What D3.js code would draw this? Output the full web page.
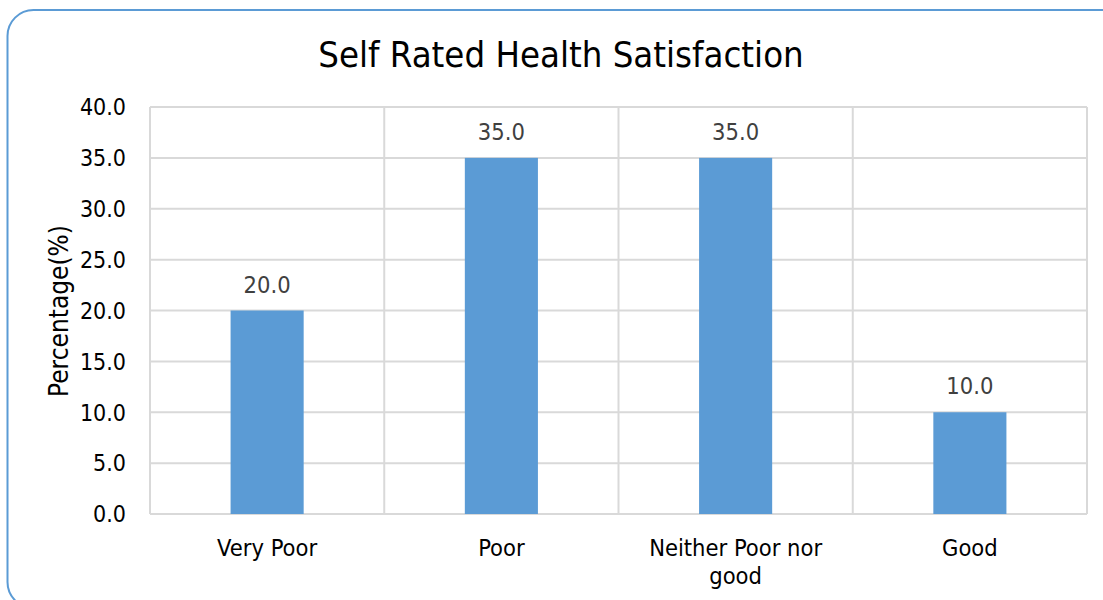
<!DOCTYPE html>
<html><head><meta charset="utf-8">
<script src="https://cdn.jsdelivr.net/npm/d3@7"></script>
<style>body{margin:0;background:#fff}svg{display:block}</style>
</head><body>
<svg id="c" width="1103" height="600"></svg>
<script>
const categories = ["Very Poor", "Poor", "Neither Poor nor good", "Good"];
const values = [20.0, 35.0, 35.0, 10.0];
const yTicks = [0, 5, 10, 15, 20, 25, 30, 35, 40];
const title = "Self Rated Health Satisfaction";
const yTitle = "Percentage(%)";

const font = "'DejaVu Sans Condensed', 'DejaVu Sans', sans-serif";
const svg = d3.select("#c");
svg.append("rect").attr("x", 7.5).attr("y", 10).attr("width", 1120).attr("height", 598)
  .attr("rx", 26).attr("fill", "#fff").attr("stroke", "#5b9bd5").attr("stroke-width", 2);

const L = 150, R = 1087, T = 107, B = 514;
const x = d3.scaleBand().domain(categories).range([L, R]).paddingInner(0).paddingOuter(0);
const y = d3.scaleLinear().domain([0, 40]).range([B, T]);

const g = svg.append("g");
g.selectAll("line.h").data(yTicks).join("line")
  .attr("x1", L).attr("x2", R).attr("y1", d => y(d)).attr("y2", d => y(d))
  .attr("stroke", "#d9d9d9").attr("stroke-width", 2);
const bounds = categories.map(c => x(c)).concat([x(categories[categories.length-1]) + x.bandwidth()]);
g.selectAll("line.v").data(bounds).join("line")
  .attr("x1", d => d).attr("x2", d => d).attr("y1", T).attr("y2", B)
  .attr("stroke", "#d9d9d9").attr("stroke-width", 2);

const bw = x.bandwidth() * 0.312;
g.selectAll("rect.bar").data(values).join("rect")
  .attr("x", (d, i) => x(categories[i]) + x.bandwidth() / 2 - bw / 2)
  .attr("width", bw)
  .attr("y", d => y(d)).attr("height", d => B - y(d))
  .attr("fill", "#5b9bd5");

g.selectAll("text.lbl").data(values).join("text")
  .attr("x", (d, i) => x(categories[i]) + x.bandwidth() / 2)
  .attr("y", d => y(d) - 18)
  .attr("text-anchor", "middle").attr("font-family", font).attr("font-size", 23.5)
  .attr("fill", "#404040").text(d => d.toFixed(1));

g.selectAll("text.yt").data(yTicks).join("text")
  .attr("x", 126).attr("y", d => y(d)).attr("dy", "0.36em")
  .attr("text-anchor", "end").attr("font-family", font).attr("font-size", 23)
  .attr("fill", "#000").text(d => d.toFixed(1));

categories.forEach((c, i) => {
  const cx = x(c) + x.bandwidth() / 2;
  const lines = c === "Neither Poor nor good" ? ["Neither Poor nor", "good"] : [c];
  lines.forEach((ln, j) => {
    g.append("text").attr("x", cx).attr("y", 556 + j * 28)
      .attr("text-anchor", "middle").attr("font-family", font).attr("font-size", 23.5)
      .attr("fill", "#000").text(ln);
  });
});

svg.append("text").attr("x", 561).attr("y", 67).attr("text-anchor", "middle")
  .attr("font-family", font).attr("font-size", 36.2).attr("fill", "#000").text(title);

svg.append("text").attr("transform", "translate(68,311) rotate(-90)")
  .attr("text-anchor", "middle").attr("font-family", font).attr("font-size", 26)
  .attr("fill", "#000").text(yTitle);
</script>
</body></html>
